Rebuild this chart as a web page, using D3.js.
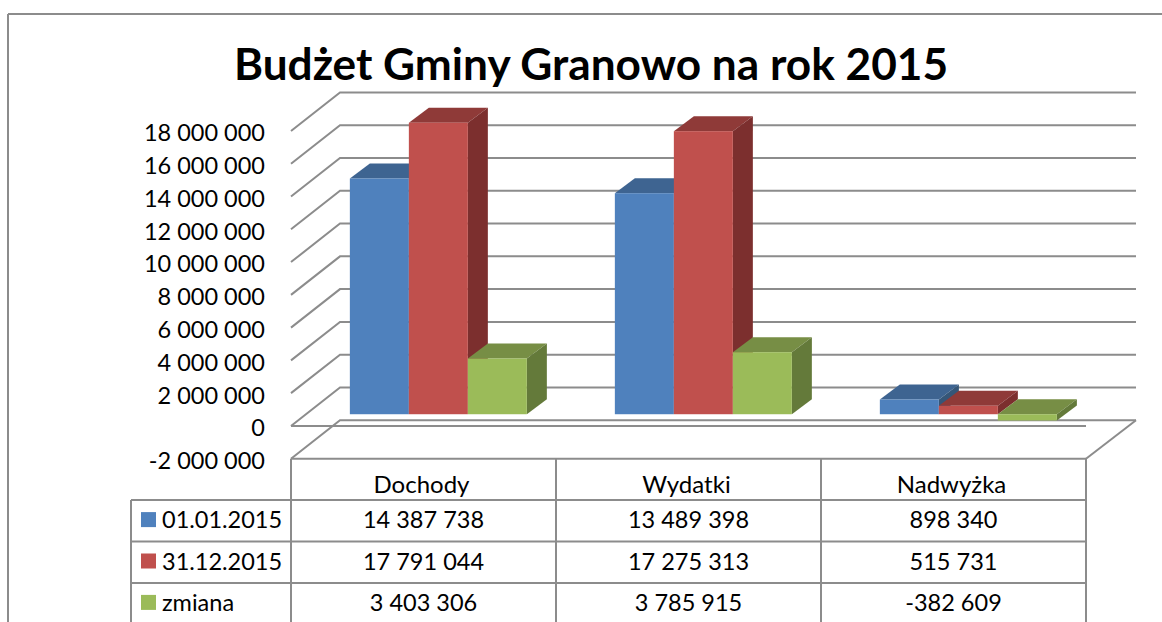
<!DOCTYPE html>
<html>
<head>
<meta charset="utf-8">
<title>Budżet Gminy Granowo na rok 2015</title>
<script src="https://cdn.jsdelivr.net/npm/d3@7"></script>
<style>
  body { margin: 0; background: #fff; }
  svg { display: block; font-family: Lato, "Open Sans", sans-serif; fill: #000; }
</style>
</head>
<body>
<div class="canvas"></div>
<script>
// chart values
const categories = ['Dochody', 'Wydatki', 'Nadwyżka'];
const seriesNames = ['01.01.2015', '31.12.2015', 'zmiana'];
const startValues = [14387738, 13489398, 898340];
const endValues = [17791044, 17275313, 515731];
const changeValues = [3403306, 3785915, -382609];
const yTicks = [-2000000, 0, 2000000, 4000000, 6000000, 8000000, 10000000, 12000000, 14000000, 16000000, 18000000];

// front, top and side colour of each series
const frontColors = ['#4f81bd', '#c0504d', '#9bbb59'];
const topColors = ['#3e6491', '#8f3a38', '#778e45'];
const sideColors = ['#355678', '#7c2f2e', '#647a3a'];

const width = 1162;
const height = 622;
const gridColor = '#8c8c8c';

// 3D look: how far the back wall and each bar are pushed
const wall = {dx: 49, dy: 38.5};
const barDepth = {dx: 20, dy: 15};
const barShift = {dx: 15, dy: 11.7};

const svg = d3.select('.canvas')
  .append('svg')
    .attr('width', width)
    .attr('height', height);

// thousands are split with a space in the original
const format = d3.formatLocale({decimal: ',', thousands: ' ', grouping: [3], currency: ['', ''], minus: '-'}).format(',d');

const x = d3.scaleBand()
  .domain(categories)
  .range([291, 1086]);

const xBar = d3.scaleBand()
  .domain(seriesNames)
  .range([43.85, 220.85]);

const y = d3.scaleLinear()
  .domain([-2000000, 18000000])
  .range([458.7, 131]);

const rowY = d3.scaleBand()
  .domain(['head', ...seriesNames, 'end'])
  .range([458.7, 458.7 + 41.4 * 5]);

const line = (x1, y1, x2, y2) => svg.append('line')
  .attr('x1', x1).attr('y1', y1)
  .attr('x2', x2).attr('y2', y2)
  .attr('stroke', gridColor)
  .attr('stroke-width', 2);

// outer frame of the chart, cut off by the screenshot on the right and bottom
line(8, 14, width, 14);
line(8, 14, 8, height);

// gridlines run up the left wall and then along the back wall
const grid = svg.append('g')
  .attr('fill', 'none')
  .attr('stroke', gridColor)
  .attr('stroke-width', 2);

grid.selectAll('path')
  .data(yTicks)
  .enter()
  .append('path')
    .attr('d', d => `M${x.range()[0]},${y(d)}l${wall.dx},${-wall.dy}H${x.range()[1] + wall.dx + 1}`);

// floor edge and the front zero line
line(x.range()[1], y(-2000000), x.range()[1] + wall.dx + 1, y(-2000000) - wall.dy);
line(x.range()[0], y(0), x.range()[1], y(0));

// value axis, labels only
const yAxis = d3.axisLeft(y)
  .tickValues(yTicks)
  .tickFormat(format)
  .tickSize(0)
  .tickPadding(26);

const yAxisGroup = svg.append('g')
  .attr('transform', `translate(${x.range()[0]}, 0)`)
  .attr('font-family', null)
  .call(yAxis);

yAxisGroup.select('.domain').remove();
yAxisGroup.attr('font-family', 'Lato');
yAxisGroup.selectAll('text')
  .attr('font-size', 23.5)
  .attr('dy', '0.42em')
  .attr('fill', '#000');

// one group per series, each bar is a top, a side and a front
const series = [startValues, endValues, changeValues];
const bars = categories.flatMap((cat, c) =>
  series.map((values, s) => ({cat, name: seriesNames[s], s, value: values[c]})));

const barGroups = svg.selectAll('g.bar')
  .data(bars)
  .enter()
  .append('g')
    .attr('class', 'bar');

const barBox = d => {
  const x0 = x(d.cat) + xBar(d.name) + barShift.dx;
  const x1 = x0 + xBar.bandwidth();
  const yTop = y(Math.max(d.value, 0)) - barShift.dy;
  const yBottom = y(Math.min(d.value, 0)) - barShift.dy;
  return {x0, x1, yTop, yBottom};
};

barGroups.append('path')
  .attr('fill', d => topColors[d.s])
  .attr('d', d => {
    const b = barBox(d);
    return `M${b.x0},${b.yTop}L${b.x1},${b.yTop}l${barDepth.dx},${-barDepth.dy}L${b.x0 + barDepth.dx},${b.yTop - barDepth.dy}Z`;
  });

barGroups.append('path')
  .attr('fill', d => sideColors[d.s])
  .attr('d', d => {
    const b = barBox(d);
    return `M${b.x1},${b.yTop}l${barDepth.dx},${-barDepth.dy}V${b.yBottom - barDepth.dy}L${b.x1},${b.yBottom}Z`;
  });

barGroups.append('rect')
  .attr('fill', d => frontColors[d.s])
  .attr('x', d => barBox(d).x0)
  .attr('y', d => barBox(d).yTop)
  .attr('width', xBar.bandwidth())
  .attr('height', d => barBox(d).yBottom - barBox(d).yTop);

// title
svg.append('text')
  .attr('x', 591)
  .attr('y', 80)
  .attr('text-anchor', 'middle')
  .attr('font-size', 44.2)
  .attr('font-weight', 700)
  .text('Budżet Gminy Granowo na rok 2015');

// data table under the chart
const tableLeft = 131;
const columnEdges = [x.range()[0], ...categories.slice(1).map(d => x(d)), x.range()[1]];

columnEdges.forEach(d => line(d, rowY('head'), d, height));
line(tableLeft, rowY(seriesNames[0]), tableLeft, height);
line(x.range()[0], rowY('head'), x.range()[1], rowY('head'));
seriesNames.forEach(d => line(tableLeft, rowY(d), x.range()[1], rowY(d)));

svg.selectAll('text.cat')
  .data(categories)
  .enter()
  .append('text')
    .attr('class', 'cat')
    .attr('x', d => x(d) + x.bandwidth() / 2 - 2)
    .attr('y', rowY('head') + 34)
    .attr('text-anchor', 'middle')
    .attr('font-size', 24)
    .text(d => d);

svg.selectAll('rect.key')
  .data(seriesNames)
  .enter()
  .append('rect')
    .attr('class', 'key')
    .attr('x', 141)
    .attr('y', d => rowY(d) + 12)
    .attr('width', 15)
    .attr('height', 15)
    .attr('fill', (d, i) => frontColors[i]);

svg.selectAll('text.key')
  .data(seriesNames)
  .enter()
  .append('text')
    .attr('class', 'key')
    .attr('x', 162)
    .attr('y', d => rowY(d) + 28)
    .attr('font-size', 23.5)
    .text(d => d);

svg.selectAll('text.value')
  .data(bars)
  .enter()
  .append('text')
    .attr('class', 'value')
    .attr('x', d => x(d.cat) + x.bandwidth() / 2)
    .attr('y', d => rowY(d.name) + 28)
    .attr('text-anchor', 'middle')
    .attr('font-size', 23.5)
    .text(d => format(d.value));
</script>
</body>
</html>
